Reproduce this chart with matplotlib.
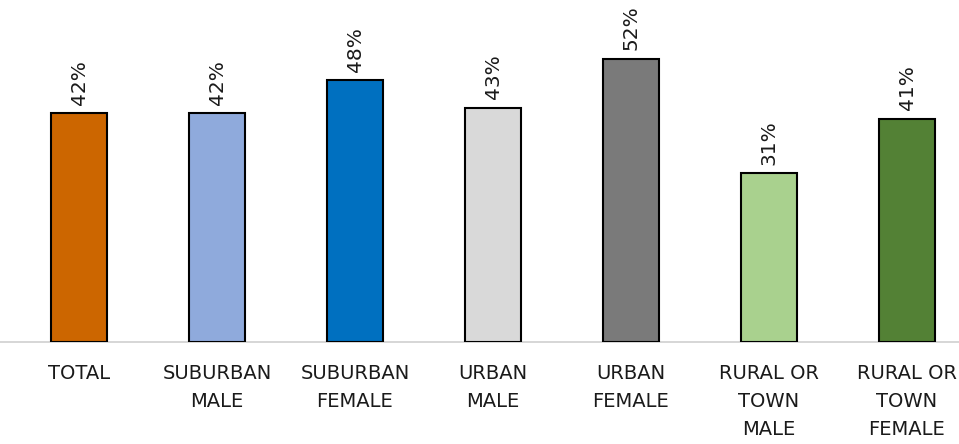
import matplotlib
matplotlib.use("Agg")
import matplotlib.pyplot as plt

categories = ["TOTAL", "SUBURBAN\nMALE", "SUBURBAN\nFEMALE", "URBAN\nMALE",
              "URBAN\nFEMALE", "RURAL OR\nTOWN\nMALE", "RURAL OR\nTOWN\nFEMALE"]
values = [42, 42, 48, 43, 52, 31, 41]
labels = ["42%", "42%", "48%", "43%", "52%", "31%", "41%"]
colors = ["#CC6600", "#8FAADC", "#0070C0", "#D9D9D9", "#7A7A7A", "#A9D18E", "#538135"]

fig = plt.figure(figsize=(9.59, 4.44), dpi=100)
ax = fig.add_axes([0, 102 / 444, 1, 342 / 444])

x = list(range(len(values)))
ax.bar(x, values, width=0.4, color=colors, edgecolor="black", linewidth=1.5, zorder=3)

for xi, v, lab in zip(x, values, labels):
    ax.annotate(lab, (xi, v), xytext=(0, 6), textcoords="offset points",
                rotation=90, ha="center", va="bottom", fontsize=14.5, color="#1a1a1a")

ax.set_xlim(-79 / 138, 880 / 138)
ax.set_ylim(0, 342 / 5.45)

for s in ["top", "left", "right"]:
    ax.spines[s].set_visible(False)
ax.spines["bottom"].set_color("#D0D0D0")
ax.spines["bottom"].set_linewidth(1.2)
ax.set_yticks([])
ax.set_xticks(x)
ax.set_xticklabels(categories, fontsize=14, color="#1a1a1a", linespacing=1.6)
ax.tick_params(axis="x", length=0, pad=16)

fig.savefig("out.png", dpi=100)
